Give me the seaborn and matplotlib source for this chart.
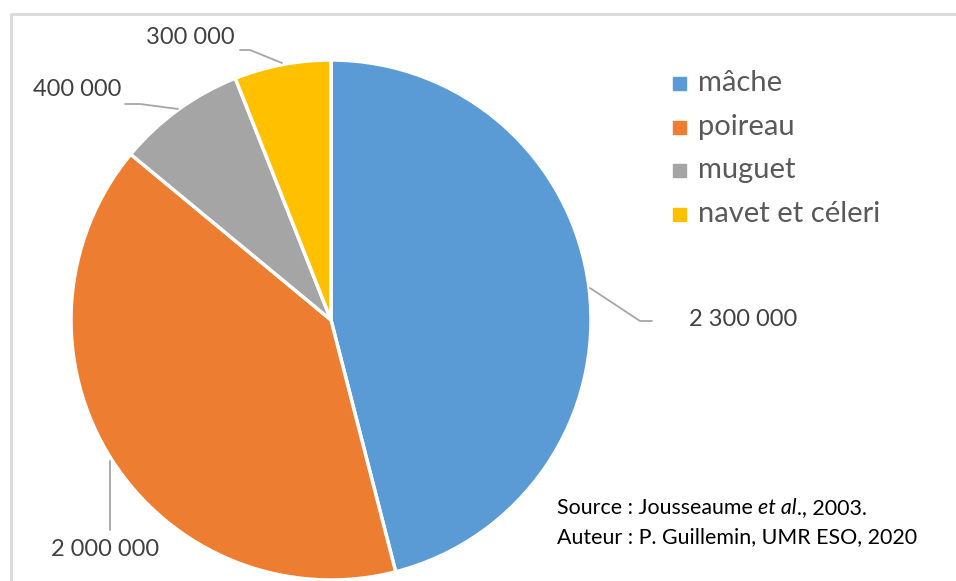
import matplotlib
matplotlib.use("Agg")
import matplotlib.pyplot as plt
import seaborn as sns
import numpy as np

categories = ["mâche", "poireau", "muguet", "navet et céleri"]
values = [2300000, 2000000, 400000, 300000]
value_labels = ["2 300 000", "2 000 000", "400 000", "300 000"]
colors = ["#5B9BD5", "#ED7D31", "#A5A5A5", "#FFC000"]

sns.set_theme(style="white")
plt.rcParams['font.family'] = ['Lato', 'DejaVu Sans']

W, H = 956, 581
fig = plt.figure(figsize=(W / 100, H / 100), dpi=100)
ax = fig.add_axes([0, 0, 1, 1])

cx, cy, r = 331, H - 320, 260
wedges, _ = ax.pie(values, colors=colors, startangle=90, counterclock=False,
                   center=(cx, cy), radius=r, frame=True,
                   wedgeprops=dict(edgecolor="white", linewidth=2.5))
ax.set_xlim(0, W)
ax.set_ylim(0, H)
ax.set_aspect("equal")
ax.axis("off")

# border
ax.plot([11, 11, W + 5], [-5, H - 14, H - 14], color="#d9d9d9", lw=2, clip_on=False)

lab_color = "#404040"
line_color = "#a6a6a6"
fs_lab = 17

def yy(v):
    return H - v

# mâche
ax.plot([590, 640, 652], [yy(288), yy(321), yy(321)], color=line_color, lw=1.3)
ax.text(689, yy(319), value_labels[0], fontsize=fs_lab, color=lab_color, va="center", ha="left")
# poireau
ax.plot([110, 110], [yy(461), yy(530)], color=line_color, lw=1.3)
ax.text(105, yy(550), value_labels[1], fontsize=fs_lab, color=lab_color, va="center", ha="center")
# muguet
ax.plot([125, 140, 178], [yy(104), yy(104), yy(109)], color=line_color, lw=1.3)
ax.text(77, yy(89), value_labels[2], fontsize=fs_lab, color=lab_color, va="center", ha="center")
# navet
ax.plot([240, 250, 282], [yy(50), yy(50), yy(63)], color=line_color, lw=1.3)
ax.text(190, yy(38), value_labels[3], fontsize=fs_lab, color=lab_color, va="center", ha="center")

# legend
leg_y = [83, 127, 170, 214]
for c, name, ly in zip(colors, categories, leg_y):
    ax.add_patch(plt.Rectangle((673, yy(ly) - 6.5), 13, 13, color=c))
    ax.text(698, yy(ly), name, fontsize=21, color="#595959", va="center", ha="left")

# source (with italic "et al")
fs_src = 15.4
fig.canvas.draw()
renderer = fig.canvas.get_renderer()
x = 557
for part, style in [("Source : Jousseaume ", "normal"), ("et al", "italic"), ("., 2003.", "normal")]:
    t = ax.text(x, yy(508), part, fontsize=fs_src, color="black", va="center", ha="left", fontstyle=style)
    bb = t.get_window_extent(renderer)
    x = x + bb.width
ax.text(557, yy(537), "Auteur : P. Guillemin, UMR ESO, 2020", fontsize=fs_src, color="black", va="center", ha="left")

fig.savefig("out.png", dpi=100)
